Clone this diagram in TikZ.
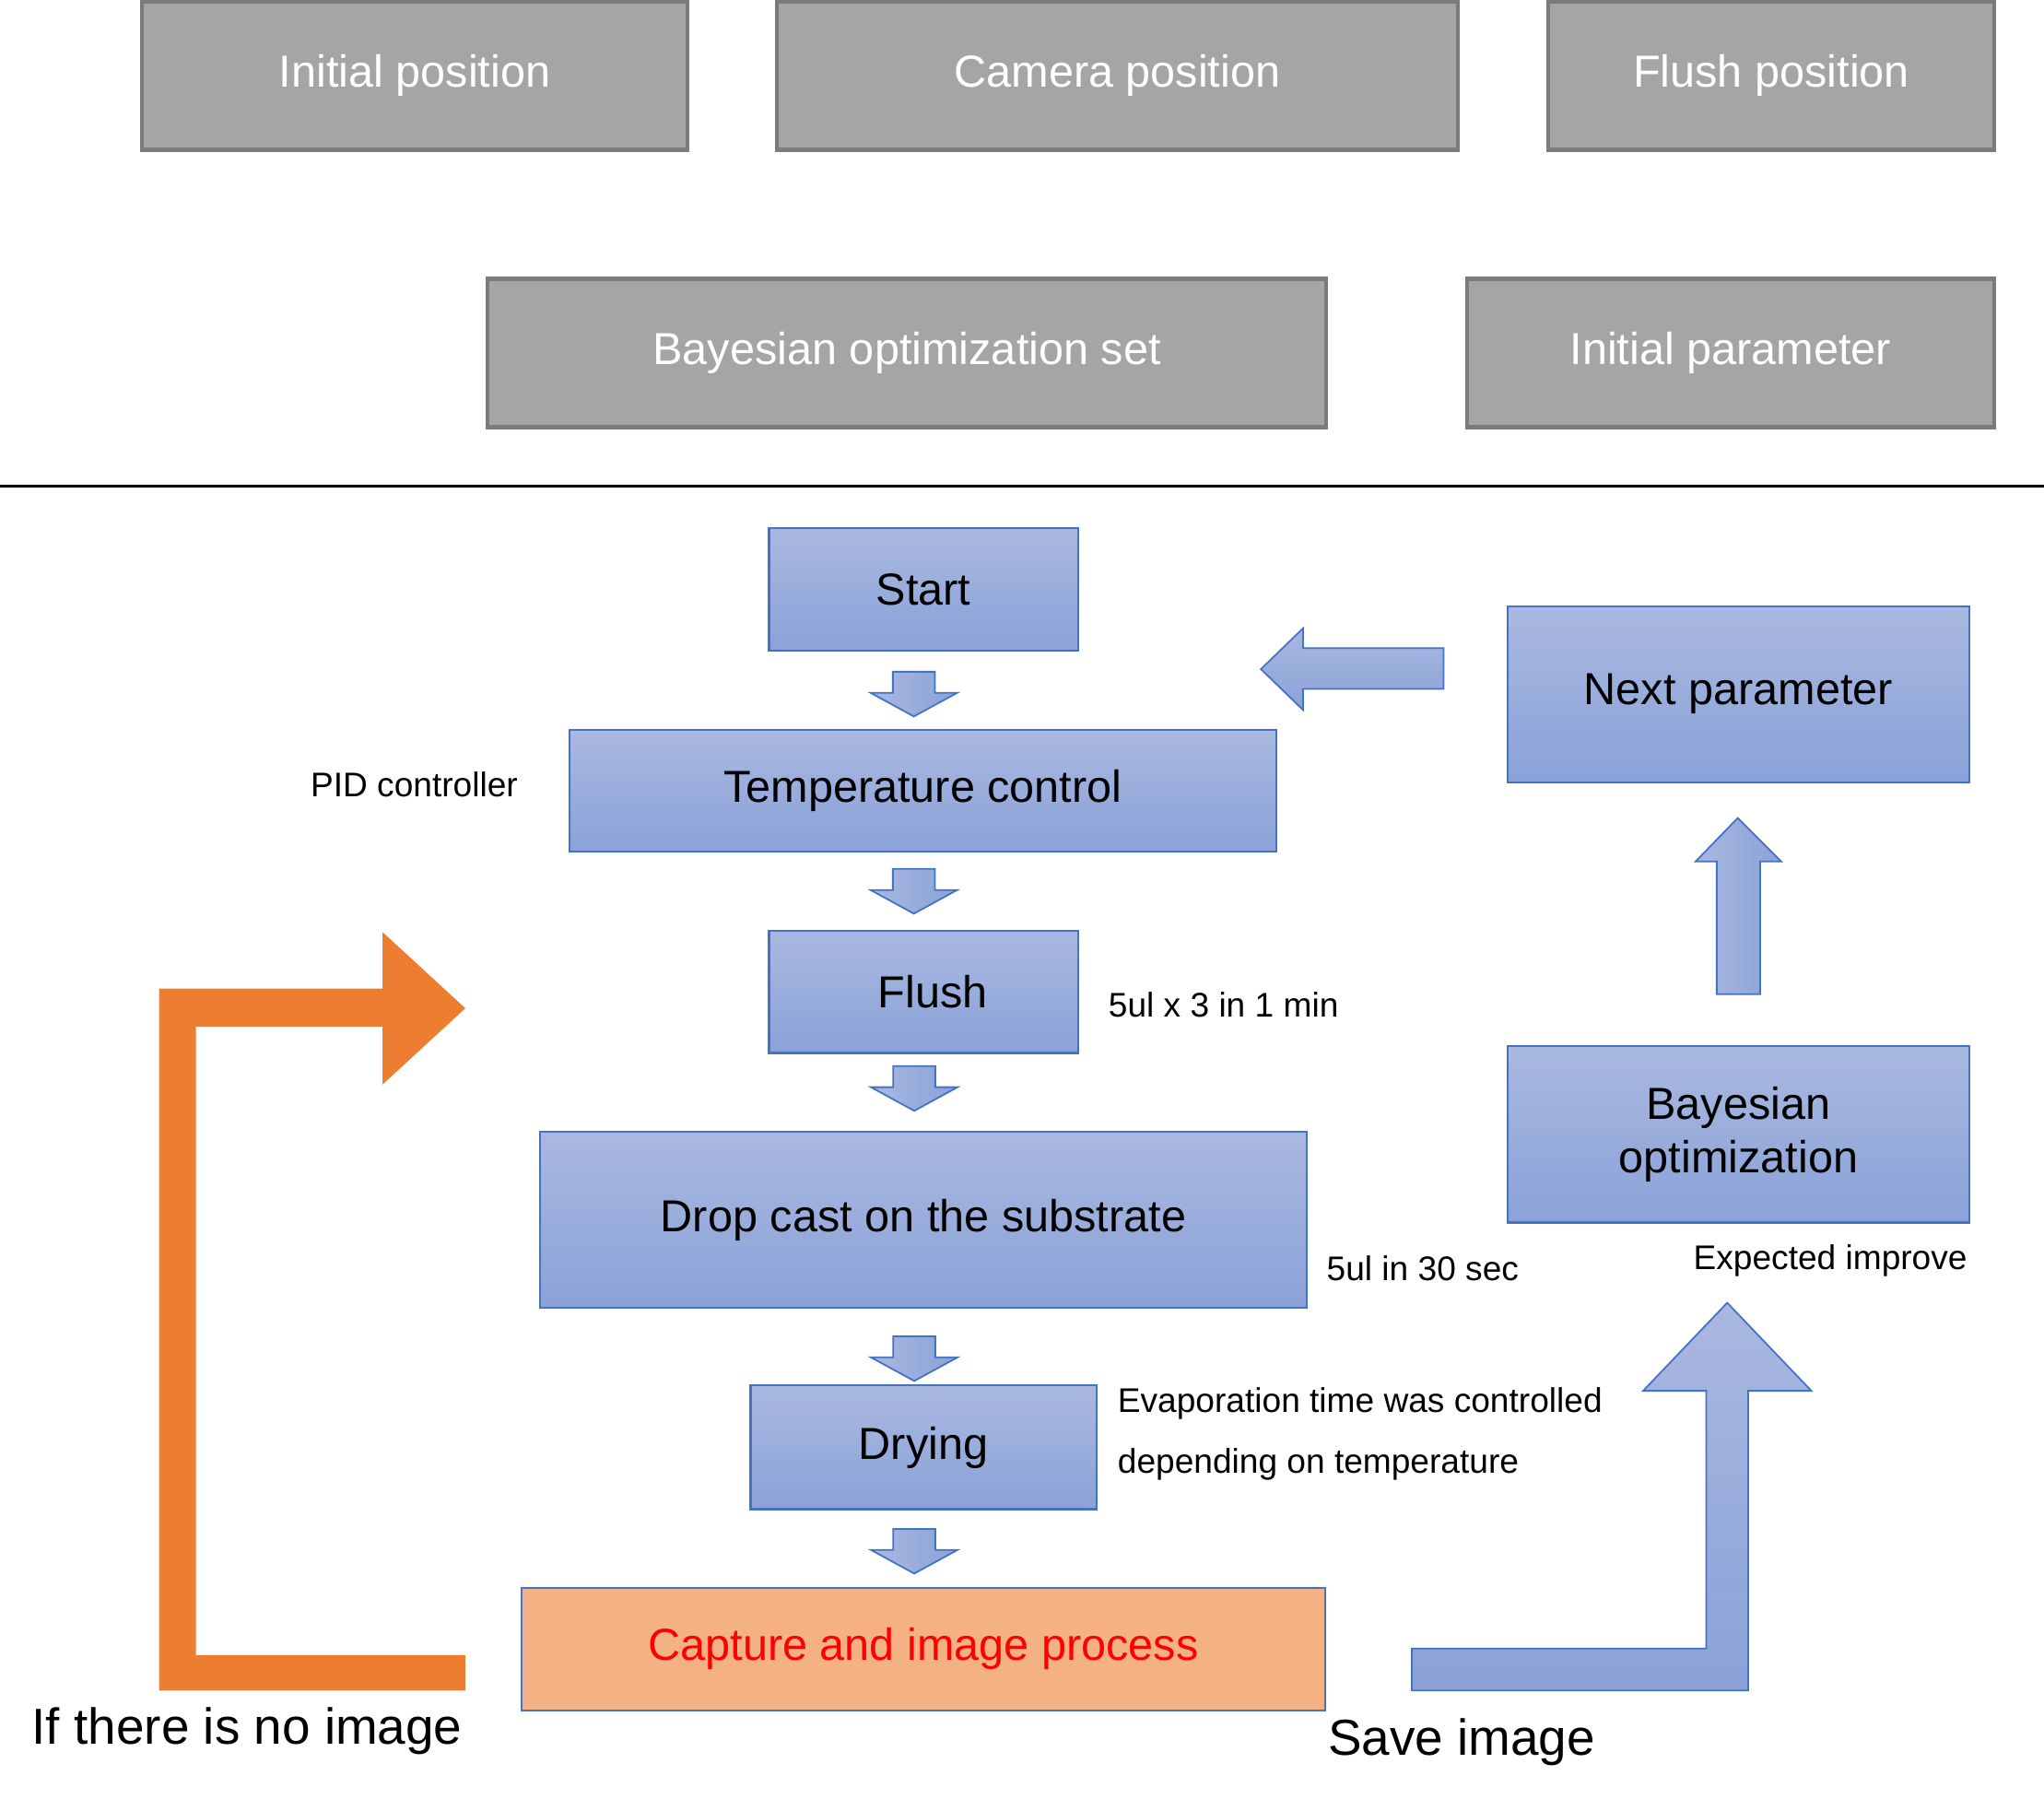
\documentclass[tikz,border=0pt]{standalone}
\usepackage{fontspec}
\setmainfont{Liberation Sans}
\usetikzlibrary{calc}

\definecolor{grayfill}{HTML}{A5A5A5}
\definecolor{grayline}{HTML}{7B7B7B}
\definecolor{bluetop}{HTML}{A9B8E0}
\definecolor{bluebot}{HTML}{8AA2D8}
\definecolor{blueline}{HTML}{4472C4}
\definecolor{capfill}{HTML}{F4B183}
\definecolor{loopcol}{HTML}{ED7D31}

\tikzset{
  graybox/.style={draw=grayline, line width=0.6mm, fill=grayfill, text=white,
    font=\fontsize{19.4pt}{23pt}\selectfont},
  bluebox/.style={draw=blueline, line width=0.3mm, top color=bluetop, bottom color=bluebot,
    font=\fontsize{19.4pt}{23.3pt}\selectfont, align=center},
  capbox/.style={draw=blueline, line width=0.3mm, fill=capfill, text=red,
    font=\fontsize{19.4pt}{23.3pt}\selectfont},
  note/.style={anchor=west, inner sep=0pt, font=\fontsize{14.8pt}{26.2pt}\selectfont, align=left},
  bignote/.style={anchor=west, inner sep=0pt, font=\fontsize{21.9pt}{26pt}\selectfont},
  blockarrow/.style={draw=blueline, line width=0.25mm, left color=bluetop, right color=bluebot},
  downarr/.pic={
    \path[blockarrow] (-16,-17) -- (16,-17) -- (16,-1) -- (33,-1) -- (0,17)
      -- (-33,-1) -- (-16,-1) -- cycle;
  }
}

\begin{document}
\begin{tikzpicture}[x=0.2mm, y=-0.2mm]
  \useasboundingbox (0,0) rectangle (1555,1368);

  % settings
  \node[graybox, minimum width=83mm, minimum height=22.5mm] (ipos) at (315.5,57.75) {Initial position};
  \node[graybox, minimum width=103.6mm, minimum height=22.5mm] (cpos) at (850,57.75) {Camera position};
  \node[graybox, minimum width=67.8mm, minimum height=22.5mm] (fpos) at (1347.5,57.75) {Flush position};
  \node[graybox, minimum width=127.6mm, minimum height=22.6mm] (boset) at (690,268.5) {Bayesian optimization set};
  \node[graybox, minimum width=80.2mm, minimum height=22.6mm] (ipar) at (1316.5,268.5) {Initial parameter};

  \draw[line width=0.4mm] (0,370) -- (1555,370);

  % process boxes
  \node[bluebox, minimum width=47mm, minimum height=18.6mm] (start) at (702.5,448.5) {Start};
  \node[bluebox, minimum width=107.6mm, minimum height=18.6mm] (temp) at (702,601.5) {Temperature control};
  \node[bluebox, minimum width=47mm, minimum height=18.6mm] (flush) at (702.5,754.5) {\hspace{8pt}Flush};
  \node[bluebox, minimum width=116.6mm, minimum height=26.8mm] (drop) at (702.5,928) {Drop cast on the substrate};
  \node[bluebox, minimum width=52.6mm, minimum height=18.8mm] (dry) at (702.5,1101) {Drying};
  \node[capbox, minimum width=122.2mm, minimum height=18.6mm] (capture) at (702.5,1254.5) {Capture and image process};
  \node[bluebox, minimum width=70.2mm, minimum height=26.8mm] (next) at (1322.5,528) {Next parameter};
  \node[bluebox, minimum width=70.2mm, minimum height=26.8mm] (bayes) at (1322.5,863) {Bayesian\\optimization};

  % step arrows
  \foreach \a/\b/\d in {start/temp/3, temp/flush/0, flush/drop/-3, drop/dry/9, dry/capture/2} {
    \pic at ($(\a.south)!0.5!(\b.north)+(-7,\d)$) {downarr};
  }

  % loop arrows
  \path[blockarrow, top color=bluetop, bottom color=bluebot] ($(next.west)+(-48,-35)$) -- ++(-107,0) -- ++(0,-15)
    -- ++(-32,31) -- ++(32,31) -- ++(0,-16) -- ++(107,0) -- cycle;
  \path[blockarrow] ($(bayes.north)+(-16.5,-39)$) -- ++(0,-101) -- ++(-16,0) -- ++(32,-33)
    -- ++(33,33) -- ++(-16,0) -- ++(0,101) -- cycle;
  \path[blockarrow, top color=bluetop, bottom color=bluebot]
    (1074,1254) -- (1298,1254) -- (1298,1058) -- (1250,1058) -- (1314,991)
    -- (1378,1058) -- (1330,1058) -- (1330,1286) -- (1074,1286) -- cycle;
  \fill[loopcol] (121,1286) -- (354,1286) -- (354,1259) -- (149,1259) -- (149,781)
    -- (291,781) -- (291,825) -- (354,767) -- (291,709) -- (291,752) -- (121,752) -- cycle;

  % notes
  \node[note] (pid) at (236,597) {PID controller};
  \node[note] (flnote) at (843,764) {5ul x 3 in 1 min};
  \node[note] (dropnote) at (1009,965) {5ul in 30 sec};
  \node[note] (expnote) at (1288,959) {Expected improve};
  \node[note] (evap) at (850,1091) {Evaporation time was controlled\\depending on temperature};
  \node[bignote] (noimg) at (24,1317) {If there is no image};
  \node[bignote] (save) at (1010,1325) {Save image};
\end{tikzpicture}
\end{document}
